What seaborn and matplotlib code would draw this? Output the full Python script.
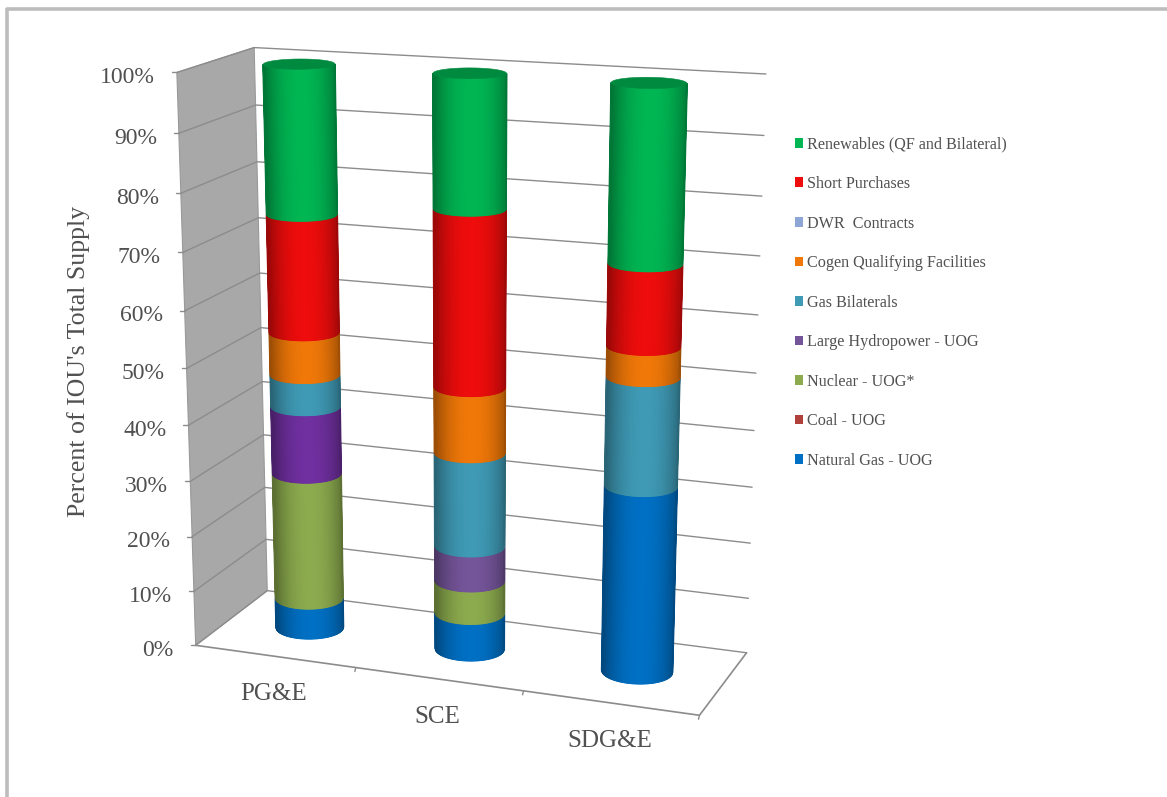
"""Stacked cylinder chart of IOU supply mix, drawn in a small 3D projection."""
import numpy as np
import matplotlib
matplotlib.use("Agg")
import matplotlib.pyplot as plt
import seaborn as sns
from matplotlib.colors import LinearSegmentedColormap, to_rgb
from matplotlib.patches import Patch, Polygon

# ── Data ─────────────────────────────────────────────────────────
categories = ["PG&E", "SCE", "SDG&E"]
y_ticks = [0, 10, 20, 30, 40, 50, 60, 70, 80, 90, 100]

# stacked bottom to top, percent of total supply
natural_gas = [5.6, 6.7, 33.0]
coal = [0.0, 0.0, 0.0]
nuclear = [23.1, 5.9, 0.0]
large_hydro = [12.1, 6.3, 0.0]
gas_bilaterals = [5.7, 16.7, 18.7]
cogen = [7.5, 11.5, 5.2]
dwr = [0.0, 0.0, 0.0]
short_purchases = [20.6, 30.5, 13.8]
renewables = [25.4, 22.4, 29.3]

series = [natural_gas, coal, nuclear, large_hydro, gas_bilaterals,
          cogen, dwr, short_purchases, renewables]
series_names = ["Natural Gas - UOG", "Coal - UOG", "Nuclear - UOG*",
                "Large Hydropower - UOG", "Gas Bilaterals",
                "Cogen Qualifying Facilities", "DWR  Contracts",
                "Short Purchases", "Renewables (QF and Bilateral)"]
series_colors = ["#0070c4", "#b0403c", "#8cab4e", "#75559a", "#3f9ab5",
                 "#f07808", "#8ea6d6", "#ee0c0c", "#00b653"]
# PG&E's hydro segment is a stronger purple than the legend swatch
pge_hydro_color = "#7030a0"

# ── Projection ───────────────────────────────────────────────────
# frame corners: (category pos, depth, value) -> pixel
CORNERS = [
    ((0, 0, 0), (196, 646)), ((0, 0, 100), (177, 72)),
    ((0, 1, 0), (267, 590)), ((0, 1, 100), (254, 48)),
    ((3, 1, 0), (747, 653)), ((3, 1, 100), (766, 74)),
    ((3, 0, 0), (699, 715)),
]


def fit_projection(corners):
    """Least squares camera matrix from the frame corners."""
    A, b = [], []
    for (x, z, v), (u, w) in corners:
        X = [x, z, v / 100, 1]
        A.append(X + [0, 0, 0, 0] + [-u * c for c in X[:3]])
        A.append([0, 0, 0, 0] + X + [-w * c for c in X[:3]])
        b += [u, w]
    p = np.linalg.lstsq(np.array(A, float), np.array(b, float), rcond=None)[0]
    return np.append(p, 1).reshape(3, 4)


P = fit_projection(CORNERS)


def project(x, z, v):
    x, z, v = np.broadcast_arrays(x, z, v)
    pts = np.stack([x, z, v / 100, np.ones_like(x, dtype=float)], axis=-1)
    out = pts @ P.T
    return out[..., 0] / out[..., 2], out[..., 1] / out[..., 2]


# ── Figure ───────────────────────────────────────────────────────
sns.set_theme(style="white")
plt.rcParams["font.family"] = ["Liberation Serif", "DejaVu Serif"]
TEXT = "#505050"
GRID = "#8c8c8c"

fig = plt.figure(figsize=(11.67, 7.97), dpi=100)
ax = fig.add_axes([0, 0, 1, 1])
ax.set_xlim(0, 1167)
ax.set_ylim(797, 0)
ax.autoscale(False)
ax.axis("off")

# outer slide frame
ax.plot([6.5, 6.5, 1167], [797, 8.5, 8.5], color="#bdbdbd", lw=2.6, zorder=1)

# left wall
wall = [project(0, 0, 0), project(0, 1, 0), project(0, 1, 100), project(0, 0, 100)]
ax.add_patch(Polygon(wall, closed=True, fc="#a8a8a8", ec="#999999", lw=0.8, zorder=2))

# gridlines and ticks
for t in y_ticks:
    pts = [project(0, 0, t), project(0, 1, t), project(3, 1, t)]
    ax.plot(*zip(*pts), color=GRID, lw=1.0, zorder=3)
    u, w = project(0, 0, t)
    ax.plot([u - 5, u], [w, w], color=GRID, lw=1.0, zorder=3)
    ax.text(u - 22, w + 5, f"{t}%", ha="right", va="center", fontsize=17, color=TEXT)

# floor edges
pts = [project(0, 0, 0), project(3, 0, 0), project(3, 1, 0)]
ax.plot(*zip(*pts), color=GRID, lw=1.2, zorder=3)
for i in range(1, 4):
    u, w = project(i, 0, 0)
    ax.plot([u, u - 1], [w, w + 4], color=GRID, lw=1.0, zorder=3)

# ── Cylinders ────────────────────────────────────────────────────
RX, RZ = 0.198, 0.19
theta = np.linspace(np.pi - 0.9, 2 * np.pi + 0.9, 721)
N_STRIPS = 90


def front_arc(cx, v):
    """Visible front rim of the circle at height v, silhouette to silhouette."""
    u, w = project(cx + RX * np.cos(theta), 0.5 + RZ * np.sin(theta), v)
    a, b = np.argmin(u), np.argmax(u)
    idx = np.linspace(a, b, N_STRIPS)
    grid = np.arange(len(theta))
    return np.interp(idx, grid, u), np.interp(idx, grid, w)


def draw_band(cx, v0, v1, color):
    u0, w0 = front_arc(cx, v0)
    u1, w1 = front_arc(cx, v1)

    # brightness falls off toward the silhouette
    t = np.linspace(-1, 1, N_STRIPS)
    s = np.abs(np.sin(t * np.pi / 2) - 0.06) / 1.06
    shade = (1 - s ** 2.2)
    rgb = np.array(to_rgb(color))
    cmap = LinearSegmentedColormap.from_list("band", [rgb * 0.62, rgb])
    ax.pcolormesh(np.vstack([u0, u1]), np.vstack([w0, w1]), np.vstack([shade, shade]),
                  shading="gouraud", cmap=cmap, vmin=0, vmax=1, zorder=5)
    # cover the stair steps along the side edges
    for j in (0, -1):
        ax.plot([u0[j], u1[j]], [w0[j], w1[j]], color=rgb * 0.66, lw=1.4,
                solid_capstyle="butt", zorder=5)


def draw_cap(cx, v, color):
    t = np.linspace(0, 2 * np.pi, 80)
    u, w = project(cx + RX * np.cos(t), 0.5 + RZ * np.sin(t), v)
    rgb = np.array(to_rgb(color)) * 0.76
    ax.add_patch(Polygon(np.column_stack([u, w]), closed=True, fc=rgb, ec=rgb,
                         lw=0.4, zorder=6))


values = np.array(series, float)
tops = np.cumsum(values, axis=0)
for i, name in enumerate(categories):
    cx = i + 0.5
    base = 0.0
    for k, color in enumerate(series_colors):
        if values[k, i] > 0:
            if i == 0 and series[k] is large_hydro:
                color = pge_hydro_color
            draw_band(cx, base, tops[k, i], color)
            last = color
        base = tops[k, i]
    draw_cap(cx, base, last)

    # category label sits below the front edge
    u, w = project(cx, 0, 0)
    ax.text(u - 1, w + 38, name, ha="center", va="center", fontsize=18, color=TEXT)

# ── Text and legend ──────────────────────────────────────────────
ax.text(79, 361, "Percent of IOU's Total Supply", rotation=90, ha="center",
        va="center", fontsize=18.6, color=TEXT)

handles = [Patch(fc=c, ec="none", label=n)
           for n, c in zip(series_names[::-1], series_colors[::-1])]
ax.legend(handles=handles, loc="upper left", bbox_to_anchor=(780, 122),
          bbox_transform=ax.transData, frameon=False, fontsize=11.6,
          labelspacing=1.46, handlelength=0.55, handleheight=0.55,
          handletextpad=0.2, labelcolor=TEXT)

fig.savefig("out.png", dpi=100)
plt.close()
